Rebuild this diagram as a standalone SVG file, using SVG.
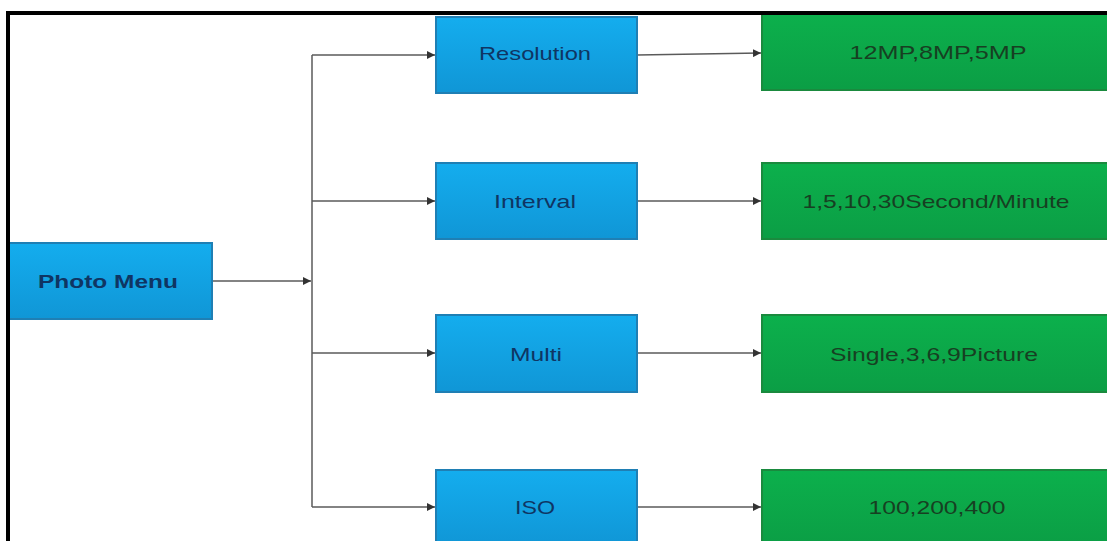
<svg xmlns="http://www.w3.org/2000/svg" width="1107" height="541" viewBox="0 0 1107 541">
<style>
.blue{stroke:#1f7fb4;stroke-width:2;fill:url(#gb)}
.green{stroke:#1a8a3e;stroke-width:2;fill:url(#gg)}
.tb{font-family:"Liberation Sans",Arial,sans-serif;font-size:19px;fill:#0f3563;text-anchor:middle}
.tg{font-family:"Liberation Sans",Arial,sans-serif;font-size:19px;fill:#173f22;text-anchor:middle}
.conn{stroke:#5a5a5a;stroke-width:1.5;fill:none}
</style>
<defs>
<linearGradient id="gb" x1="0" y1="0" x2="0" y2="1">
<stop offset="0" stop-color="#14adee"/>
<stop offset="1" stop-color="#1096d6"/>
</linearGradient>
<linearGradient id="gg" x1="0" y1="0" x2="0" y2="1">
<stop offset="0" stop-color="#0cb04c"/>
<stop offset="1" stop-color="#0b9e45"/>
</linearGradient>
<marker id="arr" viewBox="0 0 10 10" refX="10" refY="5" markerWidth="8" markerHeight="8" markerUnits="userSpaceOnUse" orient="auto">
<path d="M0,0 L10,5 L0,10 z" fill="#333"/>
</marker>
</defs>
<rect width="1107" height="541" fill="#fff"/>
<g id="connectors">
<line class="conn" x1="212" y1="281" x2="311" y2="281" marker-end="url(#arr)"/>
<line class="conn" x1="312" y1="55" x2="312" y2="507"/>
<line class="conn" x1="312" y1="55" x2="435" y2="55" marker-end="url(#arr)"/>
<line class="conn" x1="312" y1="201" x2="435" y2="201" marker-end="url(#arr)"/>
<line class="conn" x1="312" y1="353" x2="435" y2="353" marker-end="url(#arr)"/>
<line class="conn" x1="312" y1="507" x2="435" y2="507" marker-end="url(#arr)"/>
<line class="conn" x1="637" y1="55" x2="761" y2="53" marker-end="url(#arr)"/>
<line class="conn" x1="637" y1="201" x2="761" y2="201" marker-end="url(#arr)"/>
<line class="conn" x1="637" y1="353" x2="761" y2="353" marker-end="url(#arr)"/>
<line class="conn" x1="637" y1="507" x2="761" y2="507" marker-end="url(#arr)"/>
</g>
<g id="photo-menu">
<rect class="blue" x="8" y="243" width="204" height="76"/>
<text class="tb" x="108" y="288" font-weight="bold" textLength="140" lengthAdjust="spacingAndGlyphs">Photo Menu</text>
</g>
<g id="resolution">
<rect class="blue" x="436" y="17" width="201" height="76"/>
<text class="tb" x="535" y="60" textLength="112" lengthAdjust="spacingAndGlyphs">Resolution</text>
</g>
<g id="interval">
<rect class="blue" x="436" y="163" width="201" height="76"/>
<text class="tb" x="535" y="208" textLength="82" lengthAdjust="spacingAndGlyphs">Interval</text>
</g>
<g id="multi">
<rect class="blue" x="436" y="315" width="201" height="77"/>
<text class="tb" x="536" y="361" textLength="52" lengthAdjust="spacingAndGlyphs">Multi</text>
</g>
<g id="iso">
<rect class="blue" x="436" y="470" width="201" height="76"/>
<text class="tb" x="535" y="514" textLength="40" lengthAdjust="spacingAndGlyphs">ISO</text>
</g>
<g id="res-values">
<rect class="green" x="762" y="14" width="350" height="76"/>
<text class="tg" x="938" y="59" textLength="177" lengthAdjust="spacingAndGlyphs">12MP,8MP,5MP</text>
</g>
<g id="interval-values">
<rect class="green" x="762" y="163" width="350" height="76"/>
<text class="tg" x="936" y="208" textLength="267" lengthAdjust="spacingAndGlyphs">1,5,10,30Second/Minute</text>
</g>
<g id="multi-values">
<rect class="green" x="762" y="315" width="350" height="77"/>
<text class="tg" x="934" y="361" textLength="208" lengthAdjust="spacingAndGlyphs">Single,3,6,9Picture</text>
</g>
<g id="iso-values">
<rect class="green" x="762" y="470" width="350" height="76"/>
<text class="tg" x="937" y="514" textLength="137" lengthAdjust="spacingAndGlyphs">100,200,400</text>
</g>
<g id="frame">
<line x1="6" y1="13" x2="1107" y2="13" stroke="#000" stroke-width="4"/>
<line x1="8" y1="11" x2="8" y2="541" stroke="#000" stroke-width="4"/>
</g>
</svg>
